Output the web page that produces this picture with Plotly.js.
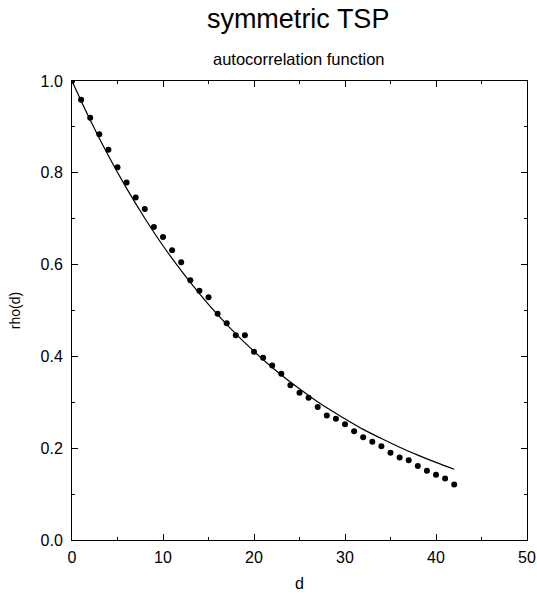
<!DOCTYPE html>
<html>
<head>
<meta charset="utf-8">
<script src="https://cdn.plot.ly/plotly-3.0.1.min.js"></script>
<style>
  html, body { margin: 0; padding: 0; background: #fff; }
  #chart { width: 537px; height: 594px; }
</style>
</head>
<body>
<div id="chart"></div>
<script>
// Measured autocorrelation rho(d) at distance d
const distances = [0, 1, 2, 3, 4, 5, 6, 7, 8, 9, 10, 11, 12, 13, 14, 15, 16, 17, 18, 19, 20,
  21, 22, 23, 24, 25, 26, 27, 28, 29, 30, 31, 32, 33, 34, 35, 36, 37, 38, 39, 40, 41, 42];
const rhoMeasured = [1.000, 0.959, 0.920, 0.884, 0.850, 0.812, 0.779, 0.746, 0.721, 0.682, 0.660,
  0.631, 0.605, 0.566, 0.543, 0.529, 0.493, 0.472, 0.446, 0.446, 0.410,
  0.397, 0.380, 0.362, 0.337, 0.321, 0.310, 0.290, 0.271, 0.264, 0.252,
  0.237, 0.224, 0.214, 0.204, 0.190, 0.180, 0.174, 0.161, 0.151, 0.142, 0.134, 0.121];

// Fitted decay curve
const fitD = [0, 2, 4, 6, 8, 10, 12, 14, 16, 18, 20, 22, 24, 26, 28, 30, 32, 34, 36, 38, 40, 42];
const fitRho = [1.000, 0.915, 0.837, 0.766, 0.701, 0.641, 0.587, 0.537, 0.491, 0.449, 0.411,
  0.376, 0.344, 0.315, 0.288, 0.264, 0.241, 0.221, 0.202, 0.185, 0.169, 0.154];

const chartTitle = 'symmetric TSP';
const chartSubtitle = 'autocorrelation function';

const font = 'Liberation Sans, Arial, Helvetica, sans-serif';

const traces = [
  {
    x: fitD, y: fitRho, mode: 'lines', type: 'scatter',
    line: { color: '#000', width: 1.2, shape: 'spline' },
    hoverinfo: 'skip'
  },
  {
    x: distances, y: rhoMeasured, mode: 'markers', type: 'scatter',
    marker: { color: '#000', size: 6 }
  }
];

const axisCommon = {
  showgrid: false, zeroline: false, showline: true, linecolor: '#000', linewidth: 1,
  mirror: 'allticks', ticks: 'inside', ticklen: 6, tickwidth: 1, tickcolor: '#000',
  tickfont: { family: font, size: 16, color: '#000' }
};

const layout = {
  width: 537, height: 594,
  margin: { l: 72, r: 10, t: 81, b: 54 },
  paper_bgcolor: '#fff', plot_bgcolor: '#fff',
  showlegend: false,
  font: { family: font, color: '#000' },
  title: {
    text: chartTitle, font: { family: font, size: 27, color: '#000' },
    xref: 'paper', x: 0.497, xanchor: 'center',
    yref: 'container', y: 1 - 19 / 594, yanchor: 'middle'
  },
  annotations: [{
    text: chartSubtitle, xref: 'paper', yref: 'paper', x: 0.499, y: 1.0,
    yshift: 22, xanchor: 'center', yanchor: 'middle', showarrow: false,
    font: { family: font, size: 16.5, color: '#000' }
  }],
  xaxis: Object.assign({}, axisCommon, {
    range: [0, 50], tickvals: [0, 10, 20, 30, 40, 50], ticklabelstandoff: 3,
    minor: { tickvals: [5, 15, 25, 35, 45], ticklen: 3, ticks: 'inside', tickcolor: '#000' },
    title: { text: 'd', font: { family: font, size: 16, color: '#000' }, standoff: 12 }
  }),
  yaxis: Object.assign({}, axisCommon, {
    range: [0, 1], tickvals: [0, 0.2, 0.4, 0.6, 0.8, 1.0], tickformat: '.1f', ticklabelstandoff: 5,
    minor: { tickvals: [0.1, 0.3, 0.5, 0.7, 0.9], ticklen: 3, ticks: 'inside', tickcolor: '#000' },
    title: { text: 'rho(d)', font: { family: font, size: 14, color: '#000' }, standoff: 16 }
  })
};

Plotly.newPlot('chart', traces, layout, { displayModeBar: false, staticPlot: true });
</script>
</body>
</html>
